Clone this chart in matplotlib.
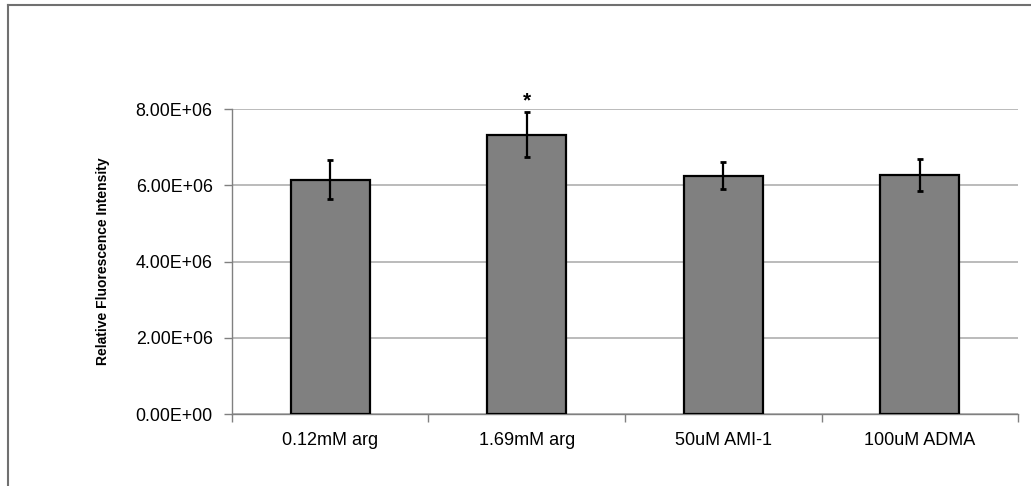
import numpy as np
import matplotlib
matplotlib.rcParams["font.family"] = ["Liberation Sans", "DejaVu Sans"]
matplotlib.rcParams["font.size"] = 12
import matplotlib.pyplot as plt
from matplotlib.lines import Line2D

categories = ["0.12mM arg", "1.69mM arg", "50uM AMI-1", "100uM ADMA"]
values = [6.14e6, 7.33e6, 6.25e6, 6.27e6]
errors = [0.51e6, 0.58e6, 0.36e6, 0.43e6]
significant = [False, True, False, False]
yticks = [0, 2e6, 4e6, 6e6, 8e6]
ytick_labels = ["0.00E+00", "2.00E+06", "4.00E+06", "6.00E+06", "8.00E+06"]

if __name__ == "__main__":
    fig = plt.figure(figsize=(10.31, 4.86), dpi=100)
    ax = fig.add_axes([0.225, 0.148, 0.7624, 0.6277])

    x = np.arange(len(categories))
    ax.bar(x, values, width=0.4, color="#808080", edgecolor="black",
           linewidth=1.6, zorder=3)
    ax.errorbar(x, values, yerr=errors, fmt="none", ecolor="black",
                elinewidth=1.6, capsize=2.5, capthick=2, zorder=4)

    # significance marker
    for xi, v, e, s in zip(x, values, errors, significant):
        if s:
            ax.text(xi, v + e + 0.05e6, "*", ha="center", va="bottom",
                    fontsize=15, fontweight="bold", clip_on=False)

    ax.set_xlim(-0.5, len(categories) - 0.5)
    ax.set_ylim(0, 8e6)
    ax.set_yticks(yticks)
    ax.set_yticklabels(ytick_labels, fontsize=12.8)
    ax.yaxis.grid(True, color="#a8a8a8", linewidth=1.1, zorder=0)

    # category boundaries as ticks, labels in the middle
    ax.set_xticks(np.arange(len(categories) + 1) - 0.5)
    ax.set_xticklabels([])
    ax.set_xticks(x, minor=True)
    ax.set_xticklabels(categories, minor=True, fontsize=13)
    ax.tick_params(axis="x", which="major", length=6, color="#808080", width=1)
    ax.tick_params(axis="x", which="minor", length=0, pad=13)
    ax.tick_params(axis="y", length=6, color="#808080", width=1, pad=8)

    for side in ["top", "right"]:
        ax.spines[side].set_visible(False)
    for side in ["left", "bottom"]:
        ax.spines[side].set_color("#808080")
        ax.spines[side].set_linewidth(1)

    ax.set_ylabel("Relative Fluorescence Intensity", fontsize=10,
                  fontweight="bold")
    ax.yaxis.set_label_coords(-0.155, 0.5)

    # outer frame (left and top edges visible)
    fig.add_artist(Line2D([8 / 1031, 8 / 1031], [0, 1 - 5 / 486],
                          color="#707070", linewidth=1.5))
    fig.add_artist(Line2D([8 / 1031, 1030 / 1031], [1 - 5 / 486, 1 - 5 / 486],
                          color="#707070", linewidth=1.5))

    plt.savefig("out.png", dpi=100)
